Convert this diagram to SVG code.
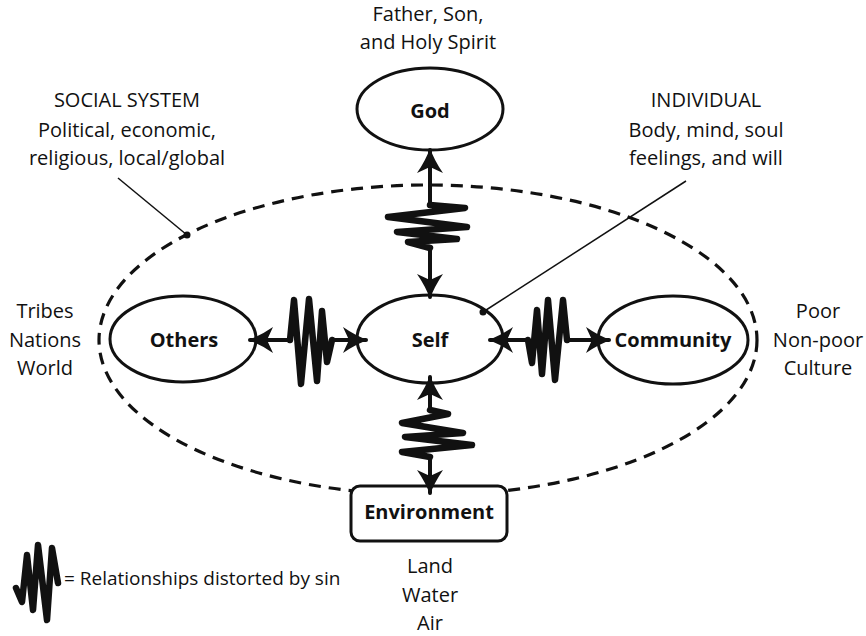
<svg xmlns="http://www.w3.org/2000/svg" width="866" height="636" viewBox="0 0 866 636">
<style>
text{font-family:"Open Sans","Liberation Sans",sans-serif;font-size:20px;fill:#111;text-anchor:middle}
.b{font-weight:bold}
.node{fill:none;stroke:#111;stroke-width:3}
.conn{fill:none;stroke:#111;stroke-width:4;stroke-linejoin:round;stroke-linecap:round}
.zig{fill:none;stroke:#111;stroke-width:6.5;stroke-linejoin:round;stroke-linecap:round}
.thin{fill:none;stroke:#111;stroke-width:1.5}
</style>
<defs>
<marker id="ah" viewBox="-26 -14 30 28" refX="0" refY="0" markerWidth="30" markerHeight="28" markerUnits="userSpaceOnUse" orient="auto-start-reverse">
<path d="M2,0 Q-10,-4 -23,-13 L-17,0 L-23,13 Q-10,4 2,0 Z" fill="#111"/>
</marker>
</defs>
<rect width="866" height="636" fill="#fff"/>

<g id="system">
<ellipse cx="428" cy="340" rx="329" ry="155" fill="none" stroke="#111" stroke-width="3.2" stroke-dasharray="12 8"/>
</g>

<g id="labels">
<text x="428" y="21">Father, Son,</text>
<text x="428" y="49">and Holy Spirit</text>
<text x="127" y="107">SOCIAL SYSTEM</text>
<text x="127" y="137">Political, economic,</text>
<text x="127" y="165">religious, local/global</text>
<text x="706" y="107">INDIVIDUAL</text>
<text x="706" y="137">Body, mind, soul</text>
<text x="706" y="165">feelings, and will</text>
<text x="45" y="318">Tribes</text>
<text x="45" y="347">Nations</text>
<text x="45" y="375">World</text>
<text x="818" y="318">Poor</text>
<text x="818" y="347">Non-poor</text>
<text x="818" y="375">Culture</text>
<text x="430" y="573">Land</text>
<text x="430" y="602">Water</text>
<text x="430" y="630">Air</text>
</g>

<g id="pointers">
<line class="thin" x1="118" y1="178" x2="187" y2="235"/>
<circle cx="187" cy="235" r="3.5" fill="#111"/>
<line class="thin" x1="686" y1="181" x2="483" y2="312"/>
<circle cx="483" cy="312" r="3.5" fill="#111"/>
</g>

<g id="god">
<ellipse class="node" cx="430" cy="109" rx="73" ry="41" fill="#fff"/>
<text class="b" x="430" y="118">God</text>
</g>
<g id="self">
<ellipse class="node" cx="430" cy="339" rx="73" ry="44"/>
<text class="b" x="430" y="347">Self</text>
</g>
<g id="others">
<ellipse class="node" cx="183" cy="339" rx="73" ry="43"/>
<text class="b" x="184" y="347">Others</text>
</g>
<g id="community">
<ellipse class="node" cx="673" cy="340" rx="75" ry="44"/>
<text class="b" x="673" y="347">Community</text>
</g>
<g id="environment">
<rect x="351" y="486" width="156" height="55" rx="9" fill="#fff" stroke="#111" stroke-width="3"/>
<text class="b" x="429" y="519">Environment</text>
</g>

<g id="connectors">
<path class="conn" marker-start="url(#ah)" marker-end="url(#ah)" d="M430,150 L430,205 L465,208 L388,217 L467,227 L397,232 L457,239 L408,242 L430,248 L430,297"/>
<path class="zig" d="M430,205 L465,208 L388,217 L467,227 L397,232 L457,239 L408,242 L430,248"/>

<path class="conn" marker-start="url(#ah)" marker-end="url(#ah)" d="M430,377 L430,410 L448,414 L402,423 L463,433 L405,437 L472,445 L402,452 L430,457 L430,493"/>
<path class="zig" d="M430,410 L448,414 L402,423 L463,433 L405,437 L472,445 L402,452 L430,457"/>

<path class="conn" marker-start="url(#ah)" marker-end="url(#ah)" d="M250,340 L290,340 L294,300 L301,384 L309,299 L317,381 L322,311 L327,362 L332,340 L366,340"/>
<path class="zig" d="M290,340 L294,300 L301,384 L309,299 L317,381 L322,311 L327,362 L332,340"/>

<path class="conn" marker-start="url(#ah)" marker-end="url(#ah)" d="M490,340 L528,340 L532,363 L537,310 L542,374 L548,300 L555,380 L563,300 L567,340 L609,340"/>
<path class="zig" d="M528,340 L532,363 L537,310 L542,374 L548,300 L555,380 L563,300 L567,340"/>
</g>

<g id="legend">
<path class="zig" d="M16,588 L22,602 L27,555 L33,610 L38,545 L47,620 L52,548 L58,583"/>
<text x="64" y="585" style="text-anchor:start;font-size:19px">= Relationships distorted by sin</text>
</g>
</svg>
